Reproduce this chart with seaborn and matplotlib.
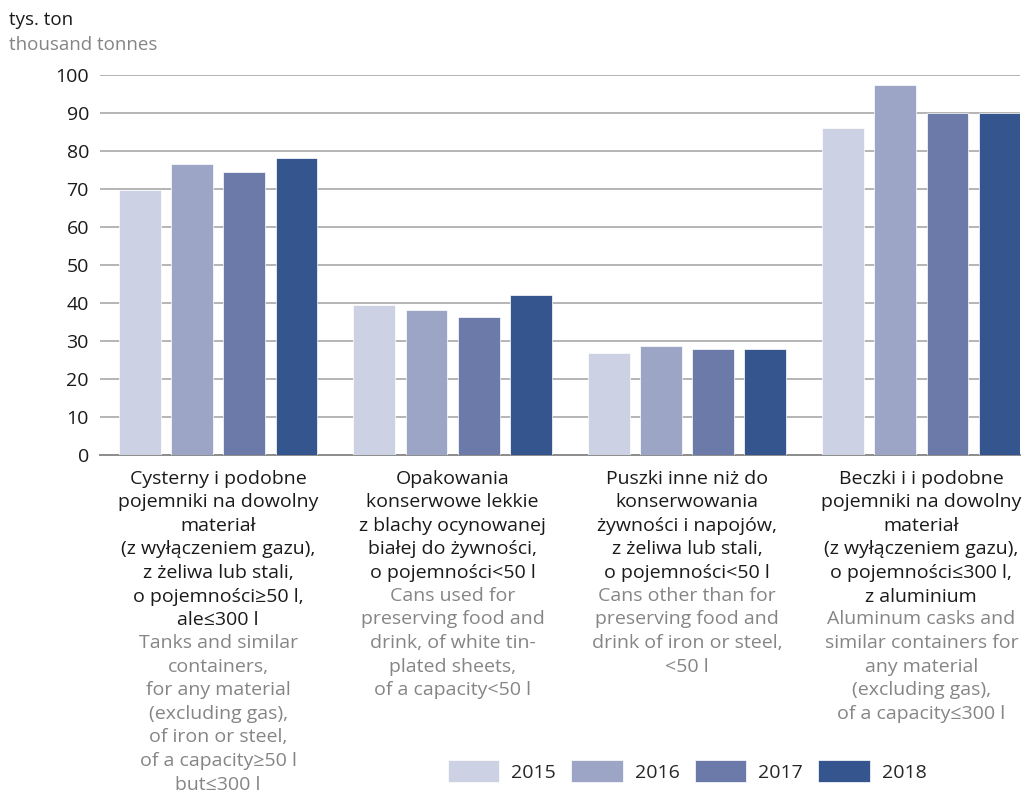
import matplotlib
matplotlib.use('Agg')
import matplotlib.pyplot as plt
import seaborn as sns
import pandas as pd

# categories (Polish / English descriptions)
kategorie_pl = [
    'Cysterny i podobne\npojemniki na dowolny\nmateriał\n(z wyłączeniem gazu),\nz żeliwa lub stali,\no pojemności≥50 l,\nale≤300 l',
    'Opakowania\nkonserwowe lekkie\nz blachy ocynowanej\nbiałej do żywności,\no pojemności<50 l',
    'Puszki inne niż do\nkonserwowania\nżywności i napojów,\nz żeliwa lub stali,\no pojemności<50 l',
    'Beczki i i podobne\npojemniki na dowolny\nmateriał\n(z wyłączeniem gazu),\no pojemności≤300 l,\nz aluminium',
]
kategorie_en = [
    'Tanks and similar\ncontainers,\nfor any material\n(excluding gas),\nof iron or steel,\nof a capacity≥50 l\nbut≤300 l',
    'Cans used for\npreserving food and\ndrink, of white tin-\nplated sheets,\nof a capacity<50 l',
    'Cans other than for\npreserving food and\ndrink of iron or steel,\n<50 l',
    'Aluminum casks and\nsimilar containers for\nany material\n(excluding gas),\nof a capacity≤300 l',
]
lata = ['2015', '2016', '2017', '2018']

v2015 = [69.8, 39.4, 26.8, 86.0]
v2016 = [76.6, 38.2, 28.8, 97.4]
v2017 = [74.6, 36.2, 28.0, 90.0]
v2018 = [78.2, 42.1, 28.0, 90.0]

kolory = ['#cdd1e4', '#9ca5c5', '#6c7aaa', '#34558e']

rows = []
for rok, vals in zip(lata, [v2015, v2016, v2017, v2018]):
    for i, v in enumerate(vals):
        rows.append({'kat': i, 'rok': rok, 'wartosc': v})
df = pd.DataFrame(rows)

sns.set_style('white')
plt.rcParams['font.family'] = ['Open Sans', 'DejaVu Sans']

fig = plt.figure(figsize=(10.27, 7.96), dpi=100)
ax = fig.add_axes([0.0974, 0.4284, 0.8956, 0.4774])

sns.barplot(data=df, x='kat', y='wartosc', hue='rok', palette=kolory,
            saturation=1, width=0.89, gap=0.2, edgecolor='white',
            linewidth=0.5, ax=ax, zorder=3)

ax.set_ylim(0, 100)
ax.set_xlim(-0.504, 3.42)
ax.set_yticks(range(0, 101, 10))
ax.yaxis.grid(True, color='#a8a8a8', linewidth=1.2, zorder=0)
ax.set_axisbelow(True)
for s in ['top', 'right', 'left']:
    ax.spines[s].set_visible(False)
ax.spines['bottom'].set_color('#8c8c8c')
ax.spines['bottom'].set_linewidth(1.4)
ax.tick_params(axis='y', length=0, pad=8, labelsize=14, labelcolor='#1a1a1a')
ax.tick_params(axis='x', length=0)
ax.set_xticklabels([])
ax.set_xlabel('')
ax.set_ylabel('')

# category descriptions under bars
for i in range(len(kategorie_pl)):
    t = ax.annotate(kategorie_pl[i], xy=(i, 0), xycoords=('data', 'axes fraction'),
                    xytext=(0, -10.5), textcoords='offset points',
                    ha='center', va='top', fontsize=14, color='#1a1a1a',
                    linespacing=1.40)
    ax.annotate(kategorie_en[i], xy=(0.5, 0), xycoords=t,
                xytext=(0, -3.5), textcoords='offset points',
                ha='center', va='top', fontsize=14, color='#858585',
                linespacing=1.40)

# unit label
fig.text(0.009, 0.975, 'tys. ton', fontsize=13.5, color='#1a1a1a', va='center')
fig.text(0.009, 0.943, 'thousand tonnes', fontsize=13.5, color='#858585', va='center')

handles, labels = ax.get_legend_handles_labels()
ax.get_legend().remove()
fig.legend(handles, labels, loc='center', bbox_to_anchor=(0.669, 0.031),
           ncol=4, frameon=False, fontsize=14, handlelength=2.65,
           handleheight=1.35, handletextpad=0.62, columnspacing=0.78)

fig.savefig('out.png', dpi=100)
